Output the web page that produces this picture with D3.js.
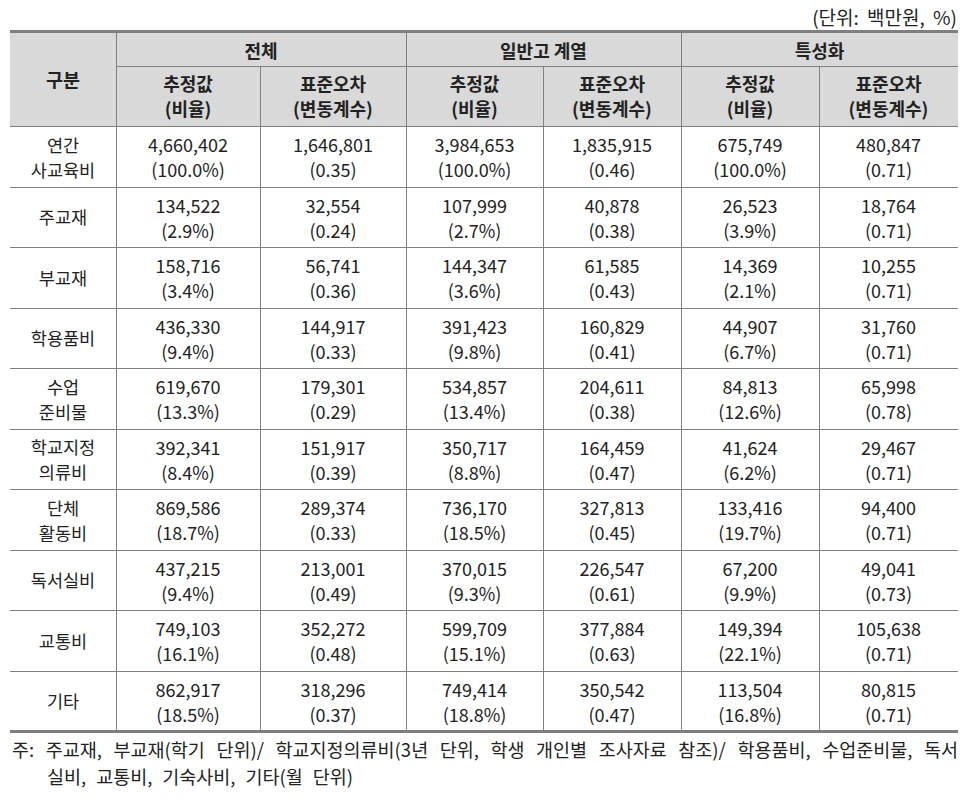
<!DOCTYPE html>
<html><head><meta charset="utf-8">
<script src="https://cdn.jsdelivr.net/npm/d3@7"></script>
<style>
html,body{margin:0;padding:0;background:#fff;}
svg{display:block;font-family:"Noto Sans CJK KR","Noto Sans",sans-serif;}
</style></head>
<body><svg id="c" width="976" height="803"></svg>
<script>
const categories = ["연간\n사교육비","주교재","부교재","학용품비","수업\n준비물","학교지정\n의류비","단체\n활동비","독서실비","교통비","기타"];
const groups = ["전체","일반고 계열","특성화"];
const subHeads = [["추정값","(비율)"],["표준오차","(변동계수)"]];
const totalEst = [4660402,134522,158716,436330,619670,392341,869586,437215,749103,862917];
const totalRatio = [100.0,2.9,3.4,9.4,13.3,8.4,18.7,9.4,16.1,18.5];
const totalSE = [1646801,32554,56741,144917,179301,151917,289374,213001,352272,318296];
const totalCV = [0.35,0.24,0.36,0.33,0.29,0.39,0.33,0.49,0.48,0.37];
const generalEst = [3984653,107999,144347,391423,534857,350717,736170,370015,599709,749414];
const generalRatio = [100.0,2.7,3.6,9.8,13.4,8.8,18.5,9.3,15.1,18.8];
const generalSE = [1835915,40878,61585,160829,204611,164459,327813,226547,377884,350542];
const generalCV = [0.46,0.38,0.43,0.41,0.38,0.47,0.45,0.61,0.63,0.47];
const specialEst = [675749,26523,14369,44907,84813,41624,133416,67200,149394,113504];
const specialRatio = [100.0,3.9,2.1,6.7,12.6,6.2,19.7,9.9,22.1,16.8];
const specialSE = [480847,18764,10255,31760,65998,29467,94400,49041,105638,80815];
const specialCV = [0.71,0.71,0.71,0.71,0.78,0.71,0.71,0.73,0.71,0.71];
const unitText = "(단위: 백만원, %)";
const noteLines = ["주: 주교재, 부교재(학기 단위)/ 학교지정의류비(3년 단위, 학생 개인별 조사자료 참조)/ 학용품비, 수업준비물, 독서","실비, 교통비, 기숙사비, 기타(월 단위)"];

const svg = d3.select("#c");
const colEdges = [10,116,260,406,543,681,819,958];
const tableTop = 32, groupBottom = 66, headBottom = 126, tableBottom = 731;
const lineColor = "#808080", textColor = "#222";
const fmtInt = d3.format(",");
const fmtPct = v => "(" + d3.format(".1f")(v) + "%)";
const fmtCV = v => "(" + d3.format(".2f")(v) + ")";

const y = d3.scaleBand().domain(categories).range([headBottom, tableBottom]);

svg.append("rect").attr("x",colEdges[0]).attr("y",tableTop).attr("width",colEdges[7]-colEdges[0])
  .attr("height",headBottom-tableTop).attr("fill","#d9d9d9");

const cols = [
  {est:totalEst, ratio:totalRatio, se:totalSE, cv:totalCV},
  {est:generalEst, ratio:generalRatio, se:generalSE, cv:generalCV},
  {est:specialEst, ratio:specialRatio, se:specialSE, cv:specialCV}
];

const hl = svg.append("g").attr("stroke",lineColor);
hl.append("line").attr("x1",colEdges[1]).attr("x2",colEdges[7]).attr("y1",groupBottom+0.5).attr("y2",groupBottom+0.5);
hl.append("line").attr("x1",colEdges[0]).attr("x2",colEdges[7]).attr("y1",headBottom+0.5).attr("y2",headBottom+0.5);
categories.slice(1).forEach(c=>{
  const yy = Math.round(y(c))+0.5;
  hl.append("line").attr("x1",colEdges[0]).attr("x2",colEdges[7]).attr("y1",yy).attr("y2",yy);
});
colEdges.slice(1,7).forEach((x,i)=>{
  const y1 = (i%2===1) ? groupBottom : tableTop;
  hl.append("line").attr("x1",x+0.5).attr("x2",x+0.5).attr("y1",y1).attr("y2",tableBottom);
});
svg.append("rect").attr("x",colEdges[0]).attr("y",tableTop-2).attr("width",colEdges[7]-colEdges[0]).attr("height",3).attr("fill","#7f7f7f");
svg.append("rect").attr("x",colEdges[0]).attr("y",tableBottom-1).attr("width",colEdges[7]-colEdges[0]).attr("height",3).attr("fill","#7f7f7f");

const txt = (x,yy,s,opts={}) => svg.append("text").attr("x",x).attr("y",yy)
  .attr("text-anchor",opts.anchor||"middle").attr("dominant-baseline","central")
  .attr("font-size",opts.size||17.5).attr("font-weight",opts.bold?"bold":"normal")
  .attr("fill",opts.color||textColor).text(s);

txt((colEdges[0]+colEdges[1])/2, (tableTop+headBottom)/2, "구분", {bold:true,size:18.5});
groups.forEach((g,i)=>{
  txt((colEdges[1+2*i]+colEdges[3+2*i])/2, (tableTop+groupBottom)/2+1, g, {bold:true,size:18});
  subHeads.forEach((sh,j)=>{
    const cx = (colEdges[1+2*i+j]+colEdges[2+2*i+j])/2;
    txt(cx, 83, sh[0], {bold:true,size:18});
    txt(cx, 108, sh[1], {bold:true,size:18});
  });
});

const bw = y.bandwidth();
categories.forEach((c,r)=>{
  const cy = y(c)+bw/2;
  const parts = c.split("\n");
  if(parts.length===2){
    txt((colEdges[0]+colEdges[1])/2, cy-12, parts[0], {size:17.5});
    txt((colEdges[0]+colEdges[1])/2, cy+13, parts[1], {size:17.5});
  } else {
    txt((colEdges[0]+colEdges[1])/2, cy, parts[0], {size:17.5});
  }
  cols.forEach((col,i)=>{
    const cx1 = (colEdges[1+2*i]+colEdges[2+2*i])/2;
    const cx2 = (colEdges[2+2*i]+colEdges[3+2*i])/2;
    txt(cx1, cy-12, fmtInt(col.est[r]), {size:18});
    txt(cx1, cy+13, fmtPct(col.ratio[r]), {size:18});
    txt(cx2, cy-12, fmtInt(col.se[r]), {size:18});
    txt(cx2, cy+13, fmtCV(col.cv[r]), {size:18});
  });
});

function fitWords(sel, target){
  const w = sel.node().getComputedTextLength();
  const n = (sel.text().match(/ /g)||[]).length;
  if(n>0 && w<target) sel.attr("word-spacing", (target-w)/n);
  else if(w>target) sel.attr("textLength", target).attr("lengthAdjust","spacingAndGlyphs");
  return sel;
}
txt(957, 16, unitText, {anchor:"end", size:19}).attr("word-spacing", 4);
fitWords(txt(12, 749, noteLines[0], {anchor:"start", size:18.5}), 946);
fitWords(txt(47, 776, noteLines[1], {anchor:"start", size:18.5}), 306);
</script></body></html>
